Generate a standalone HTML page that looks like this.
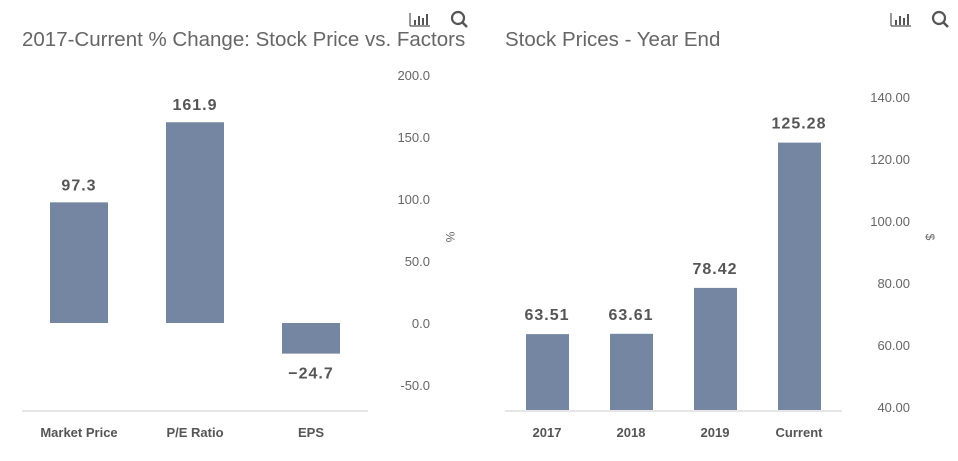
<!DOCTYPE html>
<html><head><meta charset="utf-8"><style>
body{margin:0;background:#fff;font-family:"Liberation Sans",sans-serif;}
svg text{font-family:"Liberation Sans",sans-serif;}
</style></head><body>
<svg width="958" height="456">
<g id="left"></g>
<g id="right"></g>
</svg>
<script>
const leftCats=["Market Price","P/E Ratio","EPS"];
const leftVals=[97.3,161.9,-24.7];
const leftTicks=[200,150,100,50,0,-50];
const rightCats=["2017","2018","2019","Current"];
const rightVals=[63.51,63.61,78.42,125.28];
const rightTicks=[140,120,100,80,60,40];
const NS="http://www.w3.org/2000/svg";
function mk(p,t,a,txt){const e=document.createElementNS(NS,t);for(const k in a)e.setAttribute(k,a[k]);if(txt!=null)e.textContent=txt;p.appendChild(e);return e;}
function icons(g,x){
 const a=mk(g,'g',{});
 
 mk(a,'line',{x1:x,y1:13,x2:x,y2:26,stroke:'#555','stroke-width':1.2});
 mk(a,'line',{x1:x,y1:26,x2:x+20,y2:26,stroke:'#555','stroke-width':1.2});
 [[4,20],[8,16],[12,18],[16,14]].forEach(b=>mk(a,'rect',{x:x+b[0],y:b[1],width:2,height:25-b[1],fill:'#555'}));
 const s=mk(g,'g',{});
 
 mk(s,'circle',{cx:x+48,cy:18,r:6,fill:'none',stroke:'#555','stroke-width':2.2});
 mk(s,'line',{x1:x+52,y1:22,x2:x+57,y2:27,stroke:'#555','stroke-width':2.5});
}
(function(){
 const g=document.getElementById('left');
 const y=v=>323-v*62/50;
 const t=mk(g,'text',{x:22,y:46,'font-size':20.5,fill:'#666'},'2017-Current % Change: Stock Price vs. Factors');
 
 icons(g,410);
 leftTicks.forEach(v=>{const e=mk(g,'text',{x:430,y:y(v)+5,'font-size':13,fill:'#666','text-anchor':'end'},v.toFixed(1));
  });
 const yl=mk(g,'text',{x:0,y:0,'font-size':12,fill:'#666','text-anchor':'middle',transform:'translate(446,237) rotate(90)'},'%');
 
 const ax=mk(g,'line',{x1:22,y1:411,x2:368,y2:411,stroke:'#ddd','stroke-width':1.5});
 
 leftCats.forEach((c,i)=>{const cx=79+i*116;const v=leftVals[i];
  const b=mk(g,'rect',{x:cx-29,y:Math.min(y(v),y(0)),width:58,height:Math.abs(y(v)-y(0)),fill:'#7586a3'});
  
  const ly=v>=0?y(v)-12:y(v)+25;
  const l=mk(g,'text',{x:cx,y:ly,'font-size':16,'font-weight':'bold',fill:'#555','text-anchor':'middle','letter-spacing':1},v<0?'\u2212'+Math.abs(v).toFixed(1):v.toFixed(1));
  
  const cl=mk(g,'text',{x:cx,y:437,'font-size':13,'font-weight':'bold',fill:'#555','text-anchor':'middle'},c);
  
 });
})();
(function(){
 const g=document.getElementById('right');
 const y=v=>407-(v-40)*3.1;
 const t=mk(g,'text',{x:505,y:46,'font-size':20.5,fill:'#666'},'Stock Prices - Year End');
 
 icons(g,891);
 rightTicks.forEach(v=>{const e=mk(g,'text',{x:910,y:y(v)+5,'font-size':13,fill:'#666','text-anchor':'end'},v.toFixed(2));
  });
 const yl=mk(g,'text',{x:0,y:0,'font-size':12,fill:'#666','text-anchor':'middle',transform:'translate(926,237) rotate(90)'},'$');
 
 const ax=mk(g,'line',{x1:505,y1:411,x2:842,y2:411,stroke:'#ddd','stroke-width':1.5});
 
 rightCats.forEach((c,i)=>{const cx=547+i*84;const v=rightVals[i];
  const b=mk(g,'rect',{x:cx-21,y:y(v),width:43,height:410-y(v),fill:'#7586a3'});
  
  const l=mk(g,'text',{x:cx,y:y(v)-14,'font-size':16,'font-weight':'bold',fill:'#555','text-anchor':'middle','letter-spacing':1},v.toFixed(2));
  
  const cl=mk(g,'text',{x:cx,y:437,'font-size':13,'font-weight':'bold',fill:'#555','text-anchor':'middle'},c);
  
 });
})();
</script>
</body></html>
